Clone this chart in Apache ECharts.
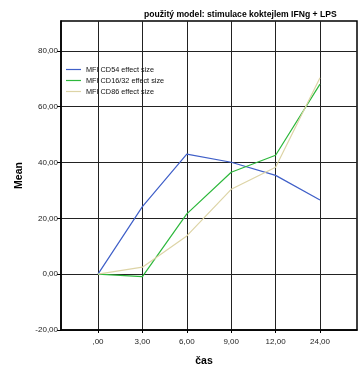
<!DOCTYPE html>
<html>
<head>
<meta charset="utf-8">
<script src="https://cdn.jsdelivr.net/npm/echarts@6/dist/echarts.min.js"></script>
<style>
html,body{margin:0;padding:0;background:#fff;}
#chart{width:360px;height:369px;}
</style>
</head>
<body>
<div id="chart"></div>
<script>
// Time points (hours) and their axis labels
const timeLabels = [",00", "3,00", "6,00", "9,00", "12,00", "24,00"];
const yTicks = [-20, 0, 20, 40, 60, 80];
const yTickLabels = ["-20,00", "0,00", "20,00", "40,00", "60,00", "80,00"];

// Mean effect sizes per time point
const cd54 = [0, 24.2, 43.0, 40.1, 35.4, 26.6];
const cd1632 = [0, -0.9, 21.6, 36.5, 42.6, 68.1];
const cd86 = [0, 2.5, 13.7, 30.4, 38.3, 70.4];

const seriesNames = ["MFI CD54 effect size", "MFI CD16/32 effect size", "MFI CD86 effect size"];
const seriesColors = ["#3f5fc8", "#2db83c", "#ddd4a6"];

const font = "'Liberation Sans', Arial, sans-serif";
const toPairs = vals => vals.map((v, i) => [i, v]);
const xIdx = timeLabels.map((_, i) => i);

const chart = echarts.init(document.getElementById('chart'), null, {renderer: 'canvas'});
chart.setOption({
  animation: false,
  backgroundColor: '#fff',
  title: {
    text: 'použitý model: stimulace koktejlem IFNg + LPS',
    left: 139, top: 5,
    textStyle: {fontFamily: font, fontSize: 8.6, fontWeight: 'bold', color: '#000'}
  },
  grid: {
    left: 61, top: 21, right: 3, bottom: 39,
    outerBoundsMode: 'none',
    show: true, borderColor: '#000', borderWidth: 1.5, backgroundColor: 'transparent'
  },
  legend: {
    orient: 'vertical', left: 61, top: 60,
    icon: 'rect', itemWidth: 15, itemHeight: 1.2, itemGap: 2,
    textStyle: {fontFamily: font, fontSize: 7.3, color: '#111', lineHeight: 9},
    data: seriesNames
  },
  xAxis: {
    type: 'value', min: -0.8333, max: 5.8333,
    name: 'čas', nameLocation: 'middle', nameGap: 26,
    nameTextStyle: {fontFamily: font, fontSize: 10.5, fontWeight: 'bold', color: '#000', padding: [0, 10, 0, 0]},
    axisLine: {show: true, onZero: false, lineStyle: {color: '#000', width: 1.5}},
    axisTick: {show: true, customValues: xIdx, length: 3, lineStyle: {color: '#000'}},
    axisLabel: {customValues: xIdx, formatter: v => timeLabels[Math.round(v)], fontFamily: font, fontSize: 8, color: '#222', margin: 8},
    splitLine: {show: true, lineStyle: {color: '#222', width: 1}}
  },
  yAxis: {
    type: 'value', min: -20, max: 90.7,
    name: 'Mean', nameLocation: 'middle', nameGap: 31, nameRotate: 90,
    nameTextStyle: {fontFamily: font, fontSize: 10.5, fontWeight: 'bold', color: '#000'},
    axisLine: {show: true, onZero: false, lineStyle: {color: '#000', width: 1.5}},
    axisTick: {show: true, customValues: yTicks, length: 4, lineStyle: {color: '#000'}},
    axisLabel: {customValues: yTicks, formatter: v => yTickLabels[yTicks.indexOf(Math.round(v))], fontFamily: font, fontSize: 8, color: '#222', margin: 3},
    splitLine: {show: true, lineStyle: {color: '#222', width: 1}}
  },
  series: [cd54, cd1632, cd86].map((vals, k) => ({
    name: seriesNames[k], type: 'line', data: toPairs(vals),
    showSymbol: false, symbol: 'none',
    lineStyle: {color: seriesColors[k], width: 1.2},
    itemStyle: {color: seriesColors[k]}
  }))
});
</script>
</body>
</html>
